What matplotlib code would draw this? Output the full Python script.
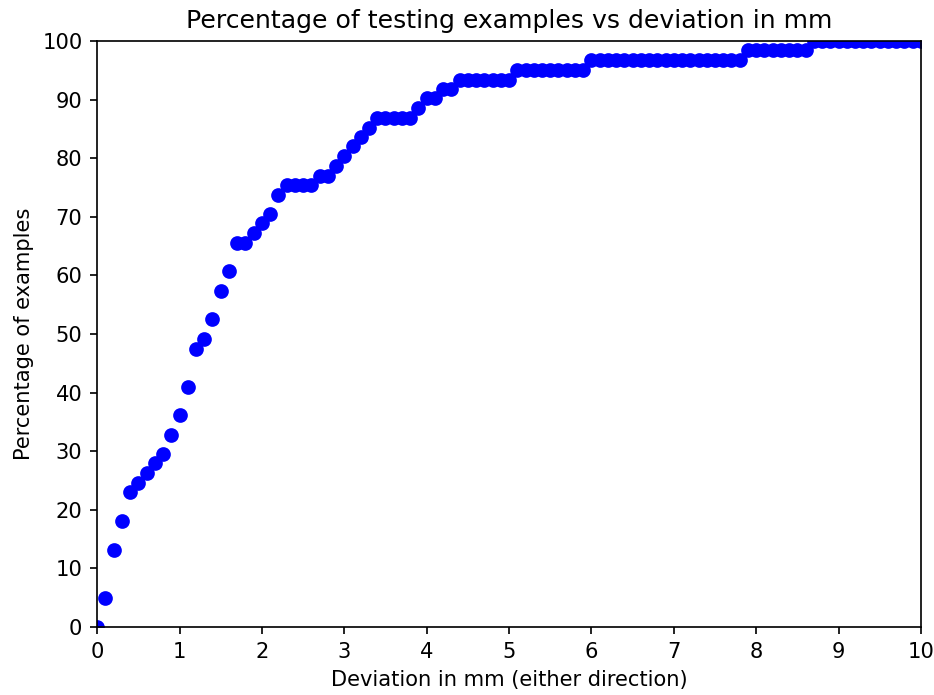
import numpy as np
import matplotlib
matplotlib.use("Agg")
import matplotlib.pyplot as plt

# deviation thresholds in mm, 0.0 .. 10.0 in 0.1 steps
deviation = [round(i * 0.1, 1) for i in range(101)]

# percentage of testing examples within each deviation
percentage = [
    0.0, 4.9, 13.1, 18.0, 23.0, 24.6, 26.2, 27.9, 29.5, 32.8,
    36.1, 41.0, 47.5, 49.2, 52.5, 57.4, 60.7, 65.6, 65.6, 67.2,
    68.9, 70.5, 73.8, 75.4, 75.4, 75.4, 75.4, 77.0, 77.0, 78.7,
    80.3, 82.0, 83.6, 85.2, 86.9, 86.9, 86.9, 86.9, 86.9, 88.5,
    90.2, 90.2, 91.8, 91.8, 93.4, 93.4, 93.4, 93.4, 93.4, 93.4,
    93.4, 95.1, 95.1, 95.1, 95.1, 95.1, 95.1, 95.1, 95.1, 95.1,
    96.7, 96.7, 96.7, 96.7, 96.7, 96.7, 96.7, 96.7, 96.7, 96.7,
    96.7, 96.7, 96.7, 96.7, 96.7, 96.7, 96.7, 96.7, 96.7, 98.4,
    98.4, 98.4, 98.4, 98.4, 98.4, 98.4, 98.4, 100.0, 100.0, 100.0,
    100.0, 100.0, 100.0, 100.0, 100.0, 100.0, 100.0, 100.0, 100.0, 100.0,
    100.0,
]

fig = plt.figure(figsize=(934 / 151, 695 / 151), dpi=151)
ax = fig.add_subplot(111)
ax.plot(deviation, percentage, "bo")
ax.set_xlim(0, 10)
ax.set_ylim(0, 100)
ax.set_xticks(range(0, 11))
ax.set_yticks(range(0, 101, 10))
ax.set_title("Percentage of testing examples vs deviation in mm")
ax.set_xlabel("Deviation in mm (either direction)")
ax.set_ylabel("Percentage of examples")
fig.subplots_adjust(left=0.104, right=0.986, top=0.941, bottom=0.098)
fig.savefig("out.png", dpi=151)
